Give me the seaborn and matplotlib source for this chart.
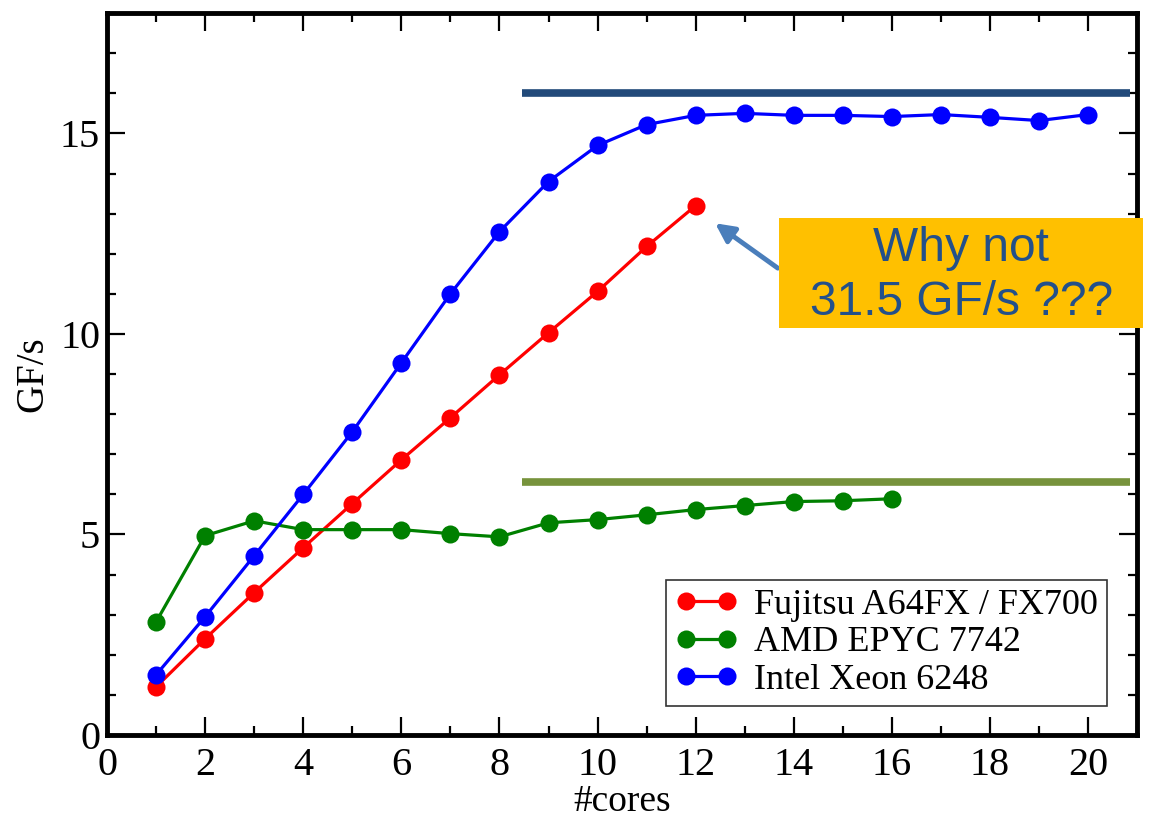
import pandas as pd
import seaborn as sns
import matplotlib.pyplot as plt
from matplotlib.patches import Rectangle

# Dados
cores_fujitsu = list(range(1, 13))
gf_fujitsu = [1.2, 2.4, 3.55, 4.67, 5.77, 6.86, 7.91, 8.98, 10.03, 11.06, 12.18, 13.2]

cores_amd = list(range(1, 17))
gf_amd = [2.82, 4.97, 5.34, 5.12, 5.12, 5.12, 5.02, 4.94, 5.29, 5.37, 5.49, 5.62,
          5.72, 5.82, 5.84, 5.89]

cores_intel = list(range(1, 21))
gf_intel = [1.5, 2.95, 4.47, 6.0, 7.56, 9.28, 11.0, 12.55, 13.8, 14.7, 15.22, 15.45,
            15.5, 15.45, 15.45, 15.42, 15.47, 15.4, 15.32, 15.47]

nomes = ['Fujitsu A64FX / FX700', 'AMD EPYC 7742', 'Intel Xeon 6248']
cores_cor = ['#ff0000', '#008000', '#0000ff']

# picos teóricos (linhas horizontais)
pico_intel = 16.0
pico_amd = 6.3
pico_x = [8.45, 20.85]

df = pd.concat([
    pd.DataFrame({'cores': cores_fujitsu, 'gf': gf_fujitsu, 'cpu': nomes[0]}),
    pd.DataFrame({'cores': cores_amd, 'gf': gf_amd, 'cpu': nomes[1]}),
    pd.DataFrame({'cores': cores_intel, 'gf': gf_intel, 'cpu': nomes[2]}),
])

sns.set_style('ticks', {'axes.edgecolor': 'black', 'text.color': 'black',
                        'axes.labelcolor': 'black', 'xtick.color': 'black',
                        'ytick.color': 'black'})
plt.rcParams['font.family'] = ['Liberation Serif', 'DejaVu Serif']

fig = plt.figure(figsize=(11.51, 8.18), dpi=100)
ax = fig.add_axes([0.093, 0.1015, 0.895, 0.8825])

ax.hlines(pico_intel, pico_x[0], pico_x[1], color='#224a7a', lw=5.5, zorder=1)
ax.hlines(pico_amd, pico_x[0], pico_x[1], color='#77933c', lw=5.5, zorder=1)

for nome, cor in zip(nomes, cores_cor):
    sub = df[df['cpu'] == nome]
    sns.lineplot(x=sub['cores'], y=sub['gf'], ax=ax, color=cor, lw=2.3,
                 marker='o', markersize=13, markeredgewidth=0, label=nome, zorder=3)

ax.set_xlim(0, 21)
ax.set_ylim(0, 18)
ax.set_xticks(range(0, 21, 2))
ax.set_xticks(range(0, 22), minor=True)
ax.set_yticks([0, 5, 10, 15])
ax.set_yticks(range(0, 19), minor=True)
ax.tick_params(which='both', direction='in', top=True, right=True, width=1.6,
               labelsize=29, colors='black')
ax.tick_params(axis='x', pad=9)
ax.tick_params(axis='y', pad=5)
ax.tick_params(which='major', length=13)
ax.tick_params(which='minor', length=6.5)
for s in ax.spines.values():
    s.set_linewidth(3.5)
    s.set_visible(True)
    s.set_color('black')

ax.set_xlabel('#cores', fontsize=27, labelpad=0, color='black')
ax.set_ylabel('GF/s', fontsize=28, labelpad=6, color='black')

leg = ax.legend(loc='lower right', bbox_to_anchor=(0.971, 0.04), numpoints=2,
                fontsize=26, frameon=True, fancybox=False, handlelength=1.75,
                handletextpad=0.45, labelspacing=0.12, borderpad=0.25,
                borderaxespad=0)
leg.get_frame().set_edgecolor('black')
leg.get_frame().set_linewidth(1.2)
for t in leg.get_texts():
    t.set_color('black')

# seta e caixa de anotação
ax.annotate('', xy=(12.35, 12.8), xytext=(13.72, 11.6),
            arrowprops=dict(arrowstyle='-|>', color='#4a7ebb', lw=3.5, mutation_scale=28))
fig.add_artist(Rectangle((0.677, 0.599), 0.316, 0.1345, transform=fig.transFigure,
                         facecolor='#ffc000', edgecolor='none', zorder=5))
fig.text(0.835, 0.663, 'Why not\n31.5 GF/s ???', ha='center', va='center',
         fontsize=34.5, color='#23508a', family='Liberation Sans', linespacing=1.25,
         zorder=6)

plt.savefig('out.png', dpi=100)
